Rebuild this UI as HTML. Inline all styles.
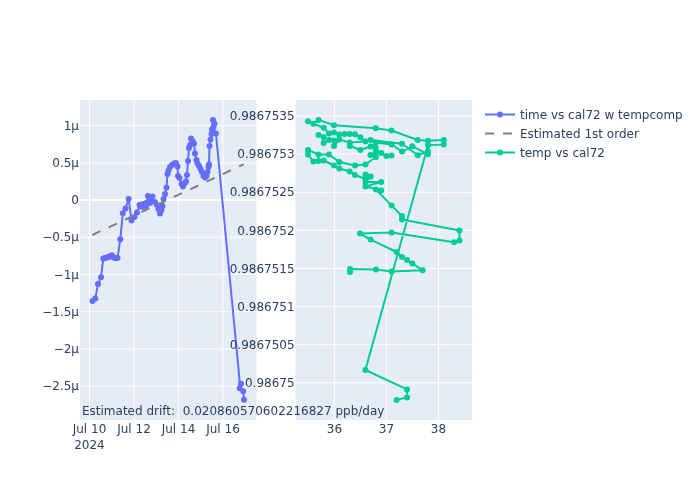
<!DOCTYPE html>
<html><head><meta charset="utf-8"><title>cal72 drift</title>
<style>html,body{margin:0;padding:0;background:#fff}svg{display:block}text{font-family:"DejaVu Sans", "Liberation Sans", sans-serif;font-size:12px;fill:#2a3f5f;white-space:pre}</style></head>
<body>
<svg width="700" height="500" viewBox="0 0 700 500">
<rect width="700" height="500" fill="#fff"/>
<rect x="80" y="100" width="176.4" height="320" fill="#E5ECF6"/>
<rect x="295.6" y="100" width="176.4" height="320" fill="#E5ECF6"/>
<path d="M89.5,100V420M134,100V420M178.5,100V420M223,100V420M80,125.50H256.4M80,162.75H256.4M80,237.25H256.4M80,274.50H256.4M80,311.75H256.4M80,349.00H256.4M80,386.25H256.4M334.4,100V420M386.45,100V420M438.5,100V420M295.6,116.05H472M295.6,154.15H472M295.6,192.25H472M295.6,230.35H472M295.6,268.45H472M295.6,306.55H472M295.6,344.65H472M295.6,382.75H472" stroke="#fff" stroke-width="1" fill="none"/>
<path d="M80,200.00H256.4" stroke="#fff" stroke-width="2" fill="none"/>
<defs><clipPath id="c1"><rect x="80" y="100" width="176.4" height="320"/></clipPath><clipPath id="c2"><rect x="295.6" y="100" width="176.4" height="320"/></clipPath></defs>
<g clip-path="url(#c1)">
<path d="M92.50,301.00L95.30,298.50L98.00,284.00L101.00,277.30L103.30,258.50L104.50,258.20L105.80,257.80L107.00,257.40L108.30,257.00L109.50,256.50L110.70,256.00L112.00,255.20L113.20,257.20L114.50,257.80L116.00,258.20L117.50,258.00L120.30,239.30L122.80,213.30L125.50,208.50L128.70,199.00L131.50,220.50L134.50,217.00L137.00,212.50L139.50,205.00L140.50,206.50L141.50,204.50L142.50,207.00L143.50,204.00L144.50,206.50L145.50,203.50L146.30,205.50L147.00,202.50L148.00,196.00L150.00,203.00L152.50,196.50L151.50,201.00L155.00,202.00L157.00,205.00L158.50,209.00L160.00,213.50L161.50,210.00L162.50,206.00L163.50,199.00L165.00,194.00L166.50,187.50L167.50,174.00L168.50,170.50L170.00,167.00L172.00,165.00L174.00,163.50L176.00,163.00L177.50,166.50L178.00,176.00L179.50,178.00L181.50,184.00L183.00,186.50L185.00,183.00L186.00,181.50L187.00,175.00L188.00,161.00L189.00,148.00L190.00,145.00L191.00,138.50L192.50,141.00L194.00,143.50L195.00,153.50L196.50,160.00L197.50,163.50L199.00,166.00L200.50,169.00L202.00,172.00L203.50,176.00L205.00,177.50L206.50,176.00L207.50,172.00L208.50,167.00L209.00,164.50L209.50,146.00L210.50,139.50L211.50,134.00L212.00,129.50L213.00,120.00L214.50,123.50L213.50,127.00L215.95,133.50L239.90,383.50L239.70,388.20L243.20,391.30L244.00,399.80" stroke="#636efa" stroke-width="2" fill="none" stroke-linejoin="round"/>
<g fill="#636efa"><circle cx="92.50" cy="301.00" r="3"/><circle cx="95.30" cy="298.50" r="3"/><circle cx="98.00" cy="284.00" r="3"/><circle cx="101.00" cy="277.30" r="3"/><circle cx="103.30" cy="258.50" r="3"/><circle cx="104.50" cy="258.20" r="3"/><circle cx="105.80" cy="257.80" r="3"/><circle cx="107.00" cy="257.40" r="3"/><circle cx="108.30" cy="257.00" r="3"/><circle cx="109.50" cy="256.50" r="3"/><circle cx="110.70" cy="256.00" r="3"/><circle cx="112.00" cy="255.20" r="3"/><circle cx="113.20" cy="257.20" r="3"/><circle cx="114.50" cy="257.80" r="3"/><circle cx="116.00" cy="258.20" r="3"/><circle cx="117.50" cy="258.00" r="3"/><circle cx="120.30" cy="239.30" r="3"/><circle cx="122.80" cy="213.30" r="3"/><circle cx="125.50" cy="208.50" r="3"/><circle cx="128.70" cy="199.00" r="3"/><circle cx="131.50" cy="220.50" r="3"/><circle cx="134.50" cy="217.00" r="3"/><circle cx="137.00" cy="212.50" r="3"/><circle cx="139.50" cy="205.00" r="3"/><circle cx="140.50" cy="206.50" r="3"/><circle cx="141.50" cy="204.50" r="3"/><circle cx="142.50" cy="207.00" r="3"/><circle cx="143.50" cy="204.00" r="3"/><circle cx="144.50" cy="206.50" r="3"/><circle cx="145.50" cy="203.50" r="3"/><circle cx="146.30" cy="205.50" r="3"/><circle cx="147.00" cy="202.50" r="3"/><circle cx="148.00" cy="196.00" r="3"/><circle cx="150.00" cy="203.00" r="3"/><circle cx="152.50" cy="196.50" r="3"/><circle cx="151.50" cy="201.00" r="3"/><circle cx="155.00" cy="202.00" r="3"/><circle cx="157.00" cy="205.00" r="3"/><circle cx="158.50" cy="209.00" r="3"/><circle cx="160.00" cy="213.50" r="3"/><circle cx="161.50" cy="210.00" r="3"/><circle cx="162.50" cy="206.00" r="3"/><circle cx="163.50" cy="199.00" r="3"/><circle cx="165.00" cy="194.00" r="3"/><circle cx="166.50" cy="187.50" r="3"/><circle cx="167.50" cy="174.00" r="3"/><circle cx="168.50" cy="170.50" r="3"/><circle cx="170.00" cy="167.00" r="3"/><circle cx="172.00" cy="165.00" r="3"/><circle cx="174.00" cy="163.50" r="3"/><circle cx="176.00" cy="163.00" r="3"/><circle cx="177.50" cy="166.50" r="3"/><circle cx="178.00" cy="176.00" r="3"/><circle cx="179.50" cy="178.00" r="3"/><circle cx="181.50" cy="184.00" r="3"/><circle cx="183.00" cy="186.50" r="3"/><circle cx="185.00" cy="183.00" r="3"/><circle cx="186.00" cy="181.50" r="3"/><circle cx="187.00" cy="175.00" r="3"/><circle cx="188.00" cy="161.00" r="3"/><circle cx="189.00" cy="148.00" r="3"/><circle cx="190.00" cy="145.00" r="3"/><circle cx="191.00" cy="138.50" r="3"/><circle cx="192.50" cy="141.00" r="3"/><circle cx="194.00" cy="143.50" r="3"/><circle cx="195.00" cy="153.50" r="3"/><circle cx="196.50" cy="160.00" r="3"/><circle cx="197.50" cy="163.50" r="3"/><circle cx="199.00" cy="166.00" r="3"/><circle cx="200.50" cy="169.00" r="3"/><circle cx="202.00" cy="172.00" r="3"/><circle cx="203.50" cy="176.00" r="3"/><circle cx="205.00" cy="177.50" r="3"/><circle cx="206.50" cy="176.00" r="3"/><circle cx="207.50" cy="172.00" r="3"/><circle cx="208.50" cy="167.00" r="3"/><circle cx="209.00" cy="164.50" r="3"/><circle cx="209.50" cy="146.00" r="3"/><circle cx="210.50" cy="139.50" r="3"/><circle cx="211.50" cy="134.00" r="3"/><circle cx="212.00" cy="129.50" r="3"/><circle cx="213.00" cy="120.00" r="3"/><circle cx="214.50" cy="123.50" r="3"/><circle cx="213.50" cy="127.00" r="3"/><circle cx="215.95" cy="133.50" r="3"/><circle cx="241.00" cy="383.70" r="3"/><circle cx="239.70" cy="388.20" r="3"/><circle cx="243.20" cy="391.30" r="3"/><circle cx="244.00" cy="399.80" r="3"/></g>
<path d="M92.3,235L243.7,164.3" stroke="#808080" stroke-width="2" stroke-dasharray="9,9" fill="none"/>
</g>
<g clip-path="url(#c2)">
<path d="M350.00,272.00L350.00,269.00L376.00,269.40L391.60,271.60L422.60,270.20L412.40,263.60L407.00,260.00L402.00,257.00L396.60,252.00L370.60,239.60L360.00,233.60L391.60,232.40L454.10,242.30L459.50,240.60L459.50,230.60L402.00,219.40L402.00,216.00L391.60,205.60L376.00,189.50L381.20,190.50L365.50,186.50L381.20,182.00L365.50,182.00L370.70,176.50L365.50,174.50L365.50,179.00L355.00,175.00L349.70,171.50L339.30,168.50L334.00,165.50L323.70,160.50L318.50,161.00L313.30,161.50L308.00,154.50L308.00,150.00L318.50,154.50L329.00,154.50L339.30,162.00L355.00,165.50L365.50,164.50L376.00,157.00L370.50,155.00L376.00,152.00L381.20,153.00L386.30,156.00L391.50,155.50M308.00,121.20L313.30,123.80L318.50,119.90L334.00,125.30L375.80,128.30L391.50,130.50L417.70,140.00L428.00,140.80L443.80,140.00L443.80,144.50L428.00,145.30L428.00,151.30M313.30,123.80L323.70,127.70L329.00,133.50L334.00,132.50L339.30,134.50L344.50,134.00L349.70,134.00L355.00,134.30L360.30,137.20L365.50,141.50L370.70,140.00L402.00,143.70L417.70,155.30L428.00,151.30M318.50,135.00L323.70,137.00L323.70,143.00L329.00,140.00L334.00,140.50L334.00,145.90L339.30,139.50L349.90,142.60L349.90,146.00L360.30,150.00L370.70,146.50L375.80,142.50L375.80,148.00L375.80,152.00M375.80,142.50L391.50,144.50L402.00,151.50L412.40,146.30L428.00,154.20M349.90,142.60L365.50,141.50M318.50,154.50L318.50,161.00M428.00,154.20L428.00,151.30L428.00,145.30L365.40,370.00L407.00,389.40L407.00,397.40L396.60,400.00" stroke="#00cc96" stroke-width="2" fill="none" stroke-linejoin="round"/>
<g fill="#00cc96"><circle cx="350.00" cy="272.00" r="3"/><circle cx="350.00" cy="269.00" r="3"/><circle cx="376.00" cy="269.40" r="3"/><circle cx="391.60" cy="271.60" r="3"/><circle cx="422.60" cy="270.20" r="3"/><circle cx="412.40" cy="263.60" r="3"/><circle cx="407.00" cy="260.00" r="3"/><circle cx="402.00" cy="257.00" r="3"/><circle cx="396.60" cy="252.00" r="3"/><circle cx="370.60" cy="239.60" r="3"/><circle cx="360.00" cy="233.60" r="3"/><circle cx="391.60" cy="232.40" r="3"/><circle cx="454.10" cy="242.30" r="3"/><circle cx="459.50" cy="240.60" r="3"/><circle cx="459.50" cy="230.60" r="3"/><circle cx="402.00" cy="219.40" r="3"/><circle cx="402.00" cy="216.00" r="3"/><circle cx="391.60" cy="205.60" r="3"/><circle cx="376.00" cy="189.50" r="3"/><circle cx="381.20" cy="190.50" r="3"/><circle cx="365.50" cy="186.50" r="3"/><circle cx="381.20" cy="182.00" r="3"/><circle cx="365.50" cy="182.00" r="3"/><circle cx="370.70" cy="176.50" r="3"/><circle cx="365.50" cy="174.50" r="3"/><circle cx="365.50" cy="179.00" r="3"/><circle cx="355.00" cy="175.00" r="3"/><circle cx="349.70" cy="171.50" r="3"/><circle cx="339.30" cy="168.50" r="3"/><circle cx="334.00" cy="165.50" r="3"/><circle cx="323.70" cy="160.50" r="3"/><circle cx="318.50" cy="161.00" r="3"/><circle cx="313.30" cy="161.50" r="3"/><circle cx="308.00" cy="154.50" r="3"/><circle cx="308.00" cy="150.00" r="3"/><circle cx="318.50" cy="154.50" r="3"/><circle cx="329.00" cy="154.50" r="3"/><circle cx="339.30" cy="162.00" r="3"/><circle cx="355.00" cy="165.50" r="3"/><circle cx="365.50" cy="164.50" r="3"/><circle cx="376.00" cy="157.00" r="3"/><circle cx="370.50" cy="155.00" r="3"/><circle cx="376.00" cy="152.00" r="3"/><circle cx="381.20" cy="153.00" r="3"/><circle cx="386.30" cy="156.00" r="3"/><circle cx="391.50" cy="155.50" r="3"/><circle cx="308.00" cy="121.20" r="3"/><circle cx="313.30" cy="123.80" r="3"/><circle cx="318.50" cy="119.90" r="3"/><circle cx="334.00" cy="125.30" r="3"/><circle cx="375.80" cy="128.30" r="3"/><circle cx="391.50" cy="130.50" r="3"/><circle cx="417.70" cy="140.00" r="3"/><circle cx="428.00" cy="140.80" r="3"/><circle cx="443.80" cy="140.00" r="3"/><circle cx="443.80" cy="144.50" r="3"/><circle cx="428.00" cy="145.30" r="3"/><circle cx="428.00" cy="151.30" r="3"/><circle cx="323.70" cy="127.70" r="3"/><circle cx="329.00" cy="133.50" r="3"/><circle cx="334.00" cy="132.50" r="3"/><circle cx="339.30" cy="134.50" r="3"/><circle cx="344.50" cy="134.00" r="3"/><circle cx="349.70" cy="134.00" r="3"/><circle cx="355.00" cy="134.30" r="3"/><circle cx="360.30" cy="137.20" r="3"/><circle cx="365.50" cy="141.50" r="3"/><circle cx="370.70" cy="140.00" r="3"/><circle cx="402.00" cy="143.70" r="3"/><circle cx="417.70" cy="155.30" r="3"/><circle cx="318.50" cy="135.00" r="3"/><circle cx="323.70" cy="137.00" r="3"/><circle cx="323.70" cy="143.00" r="3"/><circle cx="329.00" cy="140.00" r="3"/><circle cx="334.00" cy="140.50" r="3"/><circle cx="334.00" cy="145.90" r="3"/><circle cx="339.30" cy="139.50" r="3"/><circle cx="349.90" cy="142.60" r="3"/><circle cx="349.90" cy="146.00" r="3"/><circle cx="360.30" cy="150.00" r="3"/><circle cx="370.70" cy="146.50" r="3"/><circle cx="375.80" cy="142.50" r="3"/><circle cx="375.80" cy="148.00" r="3"/><circle cx="375.80" cy="152.00" r="3"/><circle cx="391.50" cy="144.50" r="3"/><circle cx="402.00" cy="151.50" r="3"/><circle cx="412.40" cy="146.30" r="3"/><circle cx="428.00" cy="154.20" r="3"/><circle cx="365.40" cy="370.00" r="3"/><circle cx="407.00" cy="389.40" r="3"/><circle cx="407.00" cy="397.40" r="3"/><circle cx="396.60" cy="400.00" r="3"/></g>
</g>
<text x="89.5" y="433.4" text-anchor="middle">Jul 10</text>
<text x="134" y="433.4" text-anchor="middle">Jul 12</text>
<text x="178.5" y="433.4" text-anchor="middle">Jul 14</text>
<text x="223" y="433.4" text-anchor="middle">Jul 16</text>
<text x="89.5" y="449" text-anchor="middle">2024</text>
<text x="334.4" y="433.4" text-anchor="middle">36</text>
<text x="386.45" y="433.4" text-anchor="middle">37</text>
<text x="438.5" y="433.4" text-anchor="middle">38</text>
<text x="79" y="129.70" text-anchor="end">1µ</text>
<text x="79" y="166.95" text-anchor="end">0.5µ</text>
<text x="79" y="204.20" text-anchor="end">0</text>
<text x="79" y="241.45" text-anchor="end">−0.5µ</text>
<text x="79" y="278.70" text-anchor="end">−1µ</text>
<text x="79" y="315.95" text-anchor="end">−1.5µ</text>
<text x="79" y="353.20" text-anchor="end">−2µ</text>
<text x="79" y="390.45" text-anchor="end">−2.5µ</text>
<text x="294.6" y="120.25" text-anchor="end">0.9867535</text>
<text x="294.6" y="158.35" text-anchor="end">0.986753</text>
<text x="294.6" y="196.45" text-anchor="end">0.9867525</text>
<text x="294.6" y="234.55" text-anchor="end">0.986752</text>
<text x="294.6" y="272.65" text-anchor="end">0.9867515</text>
<text x="294.6" y="310.75" text-anchor="end">0.986751</text>
<text x="294.6" y="348.85" text-anchor="end">0.9867505</text>
<text x="294.6" y="386.95" text-anchor="end">0.98675</text>
<text x="82" y="415.3">Estimated drift:  0.020860570602216827 ppb/day</text>
<path d="M485,114.5H515" stroke="#636efa" stroke-width="2" fill="none"/><circle cx="500" cy="114.5" r="3" fill="#636efa"/><text x="520" y="118.7">time vs cal72 w tempcomp</text>
<path d="M485,133.5H515" stroke="#808080" stroke-width="2" stroke-dasharray="9,9" fill="none"/><text x="520" y="137.7">Estimated 1st order</text>
<path d="M485,152.5H515" stroke="#00cc96" stroke-width="2" fill="none"/><circle cx="500" cy="152.5" r="3" fill="#00cc96"/><text x="520" y="156.7">temp vs cal72</text>
</svg>
</body></html>
